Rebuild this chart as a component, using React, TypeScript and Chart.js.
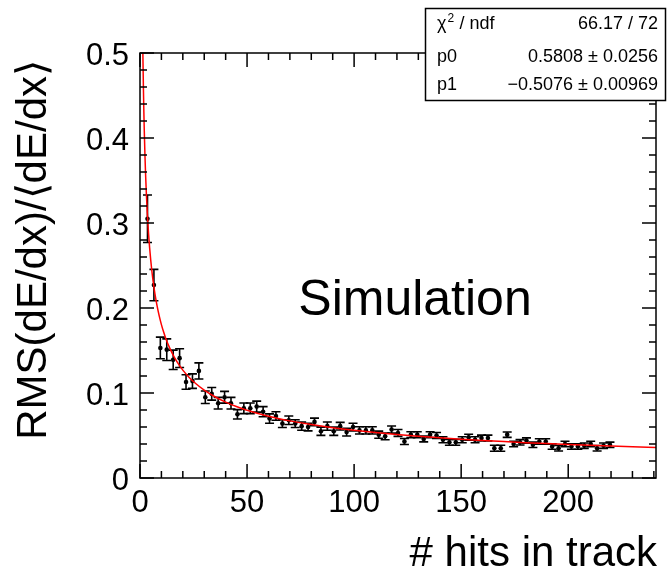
import React, { useEffect, useRef } from "react";
import { Chart, registerables } from "chart.js";

Chart.register(...registerables);

const hitsInTrack = [
  3.5, 6.5, 9.5, 12.5, 15.5, 18.5, 21.5, 24.5, 27.5, 30.5,
  33.5, 36.5, 39.5, 42.5, 45.5, 48.5, 51.5, 54.5, 57.5, 60.5,
  63.5, 66.5, 69.5, 72.5, 75.5, 78.5, 81.5, 84.5, 87.5, 90.5,
  93.5, 96.5, 99.5, 102.5, 105.5, 108.5, 111.5, 114.5, 117.5, 120.5,
  123.5, 126.5, 129.5, 132.5, 135.5, 138.5, 141.5, 144.5, 147.5, 150.5,
  153.5, 156.5, 159.5, 162.5, 165.5, 168.5, 171.5, 174.5, 177.5, 180.5,
  183.5, 186.5, 189.5, 192.5, 195.5, 198.5, 201.5, 204.5, 207.5, 210.5,
  213.5, 216.5, 219.5,
];

const rmsRatio = [
  0.305, 0.227, 0.153, 0.151, 0.139, 0.141, 0.113, 0.114, 0.126, 0.095,
  0.099, 0.088, 0.095, 0.088, 0.075, 0.082, 0.082, 0.084, 0.078, 0.070,
  0.073, 0.064, 0.068, 0.064, 0.061, 0.060, 0.066, 0.055, 0.061, 0.055,
  0.061, 0.054, 0.060, 0.056, 0.056, 0.056, 0.051, 0.049, 0.057, 0.053,
  0.043, 0.051, 0.051, 0.046, 0.051, 0.050, 0.045, 0.042, 0.042, 0.045,
  0.048, 0.045, 0.047, 0.047, 0.035, 0.035, 0.051, 0.040, 0.042, 0.044,
  0.039, 0.043, 0.043, 0.037, 0.035, 0.040, 0.037, 0.037, 0.038, 0.040,
  0.035, 0.038, 0.039,
];

const rmsError = [
  0.028, 0.0185, 0.0127, 0.0127, 0.0114, 0.011, 0.0085, 0.0085, 0.0095, 0.0073,
  0.0074, 0.0069, 0.0069, 0.0068, 0.0055, 0.0063, 0.0063, 0.0065, 0.006, 0.0055,
  0.005, 0.0045, 0.005, 0.0045, 0.0048, 0.0045, 0.0045, 0.0048, 0.0048, 0.0048,
  0.0045, 0.0045, 0.0045, 0.0043, 0.0043, 0.0043, 0.0042, 0.004, 0.0042, 0.004,
  0.0035, 0.0035, 0.0035, 0.0035, 0.0035, 0.0035, 0.0035, 0.0035, 0.0035, 0.0035,
  0.0035, 0.0035, 0.0035, 0.0035, 0.0035, 0.0035, 0.0032, 0.0032, 0.0032, 0.0032,
  0.0032, 0.0032, 0.0032, 0.0032, 0.0032, 0.0032, 0.0032, 0.0032, 0.0032, 0.0032,
  0.0032, 0.0032, 0.0032,
];

// fit function p0 * x^p1 (parameters from the stat box)
const fitP0 = 0.5808;
const fitP1 = -0.5076;
const fitX = [
  1.25, 1.4, 1.6, 1.8, 2, 2.3, 2.6, 3, 3.5, 4, 4.5, 5, 5.5, 6, 7, 8, 9, 10, 11, 12,
  14, 16, 18, 20, 23, 26, 30, 35, 40, 45, 50, 60, 70, 80, 90, 100, 110, 120,
  130, 140, 150, 160, 170, 180, 190, 200, 210, 220, 230, 241,
];

const xTicks = [0, 50, 100, 150, 200];
const yTicks = [0, 0.1, 0.2, 0.3, 0.4, 0.5];
const xMinorStep = 10;
const yMinorStep = 0.02;

const xTitle = "# hits in track";
const yTitle = "RMS(dE/dx)/\u27E8dE/dx\u27E9";
const plotLabel = "Simulation";
const statLabels = ["\u03C7", "p0", "p1"];
const statValues = ["66.17 / 72", "0.5808 \u00B1 0.0256", "\u22120.5076 \u00B1 0.00969"];

const FONT = '"Liberation Sans", Arial, Helvetica, sans-serif';

const rootPlugin = {
  id: "rootStyle",
  beforeDatasetsDraw(chart: any) {
    const { ctx } = chart;
    const x = chart.scales.x;
    const y = chart.scales.y;
    ctx.save();
    ctx.strokeStyle = "#000";
    ctx.lineWidth = 1.6;
    hitsInTrack.forEach((h, i) => {
      const px = x.getPixelForValue(h);
      const pt = y.getPixelForValue(rmsRatio[i] + rmsError[i]);
      const pb = y.getPixelForValue(rmsRatio[i] - rmsError[i]);
      ctx.beginPath();
      ctx.moveTo(px, pt);
      ctx.lineTo(px, pb);
      ctx.moveTo(px - 4.5, pt);
      ctx.lineTo(px + 4.5, pt);
      ctx.moveTo(px - 4.5, pb);
      ctx.lineTo(px + 4.5, pb);
      ctx.stroke();
    });
    ctx.restore();
  },
  afterDatasetsDraw(chart: any) {
    const { ctx, chartArea } = chart;
    const x = chart.scales.x;
    const y = chart.scales.y;
    const { left, right, top, bottom } = chartArea;
    ctx.save();
    ctx.strokeStyle = "#000";
    ctx.lineWidth = 1.5;
    // frame
    ctx.strokeRect(left, top, right - left, bottom - top);
    // x ticks (bottom & top)
    ctx.beginPath();
    for (let v = 0; v <= x.max + 1e-9; v += xMinorStep) {
      const px = x.getPixelForValue(v);
      const major = xTicks.includes(v);
      const len = major ? 14 : 7;
      ctx.moveTo(px, bottom);
      ctx.lineTo(px, bottom - len);
      ctx.moveTo(px, top);
      ctx.lineTo(px, top + len);
    }
    // y ticks (left & right)
    for (let k = 0; k <= 25; k++) {
      const v = k * yMinorStep;
      const py = y.getPixelForValue(v);
      const major = k % 5 === 0;
      const len = major ? 14 : 7;
      ctx.moveTo(left, py);
      ctx.lineTo(left + len, py);
      ctx.moveTo(right, py);
      ctx.lineTo(right - len, py);
    }
    ctx.stroke();

    // label inside plot
    ctx.fillStyle = "#000";
    ctx.font = `50px ${FONT}`;
    ctx.textAlign = "center";
    ctx.textBaseline = "alphabetic";
    ctx.fillText(plotLabel, 415, 315);

    // axis titles
    ctx.font = `42px ${FONT}`;
    ctx.textAlign = "right";
    ctx.fillText(xTitle, 657, 566);
    ctx.save();
    ctx.translate(46, 60);
    ctx.rotate(-Math.PI / 2);
    ctx.font = `42px ${FONT}`;
    ctx.textAlign = "right";
    ctx.fillText(yTitle, 0, 0);
    ctx.restore();

    // stat box
    const bx = 425.5, by = 8.5, bw = 240, bh = 92;
    ctx.fillStyle = "#fff";
    ctx.fillRect(bx, by, bw, bh);
    ctx.lineWidth = 1.5;
    ctx.strokeRect(bx, by, bw, bh);
    ctx.fillStyle = "#000";
    const rows = [29, 62, 90];
    ctx.textAlign = "left";
    ctx.font = `18px ${FONT}`;
    // chi2 / ndf
    ctx.fillText(statLabels[0], 437, rows[0]);
    const chiW = ctx.measureText(statLabels[0]).width;
    ctx.font = `12px ${FONT}`;
    ctx.fillText("2", 437 + chiW + 1, rows[0] - 7);
    ctx.font = `18px ${FONT}`;
    ctx.fillText(" / ndf", 437 + chiW + 8, rows[0]);
    ctx.fillText(statLabels[1], 437, rows[1]);
    ctx.fillText(statLabels[2], 437, rows[2]);
    ctx.textAlign = "right";
    statValues.forEach((s, i) => ctx.fillText(s, 658, rows[i]));
    ctx.restore();
  },
};

export default function App() {
  const canvasRef = useRef<HTMLCanvasElement | null>(null);

  useEffect(() => {
    const canvas = canvasRef.current;
    if (!canvas) return;
    const points = hitsInTrack.map((h, i) => ({ x: h, y: rmsRatio[i] }));
    const fitPoints = fitX.map((v) => ({ x: v, y: fitP0 * Math.pow(v, fitP1) }));
    const chart = new Chart(canvas, {
      type: "scatter",
      data: {
        datasets: [
          {
            type: "line",
            label: "fit",
            data: fitPoints,
            borderColor: "#ff0000",
            borderWidth: 1.5,
            pointRadius: 0,
            showLine: true,
            fill: false,
            cubicInterpolationMode: "monotone",
            order: 0,
          } as any,
          {
            label: "data",
            data: points,
            backgroundColor: "#000",
            borderColor: "#000",
            pointRadius: 2.3,
            pointBorderWidth: 0,
            order: 1,
          },
        ],
      },
      options: {
        responsive: false,
        animation: false,
        devicePixelRatio: 1,
        layout: { padding: { left: 0, right: 11, top: 53, bottom: 0 } },
        plugins: {
          legend: { display: false },
          tooltip: { enabled: false },
        },
        scales: {
          x: {
            type: "linear",
            min: 0,
            max: 241,
            grid: { display: false, drawTicks: false },
            border: { display: false },
            afterBuildTicks: (scale: any) => {
              scale.ticks = xTicks.map((v) => ({ value: v }));
            },
            afterFit: (scale: any) => {
              scale.height = 93;
            },
            ticks: {
              color: "#000",
              font: { family: FONT, size: 31 },
              padding: 7,
              maxRotation: 0,
              callback: (v: any) => String(v),
            },
          },
          y: {
            type: "linear",
            min: 0,
            max: 0.5,
            grid: { display: false, drawTicks: false },
            border: { display: false },
            afterBuildTicks: (scale: any) => {
              scale.ticks = yTicks.map((v) => ({ value: v }));
            },
            afterFit: (scale: any) => {
              scale.width = 140;
            },
            ticks: {
              color: "#000",
              font: { family: FONT, size: 31 },
              padding: 11,
              labelOffset: 3,
              callback: (v: any) => String(Math.round(Number(v) * 10) / 10),
            },
          },
        },
      },
      plugins: [rootPlugin],
    });
    return () => chart.destroy();
  }, []);

  return (
    <canvas
      ref={canvasRef}
      width={667}
      height={571}
      style={{ position: "absolute", left: 0, top: 0, display: "block", background: "#fff" }}
    />
  );
}
